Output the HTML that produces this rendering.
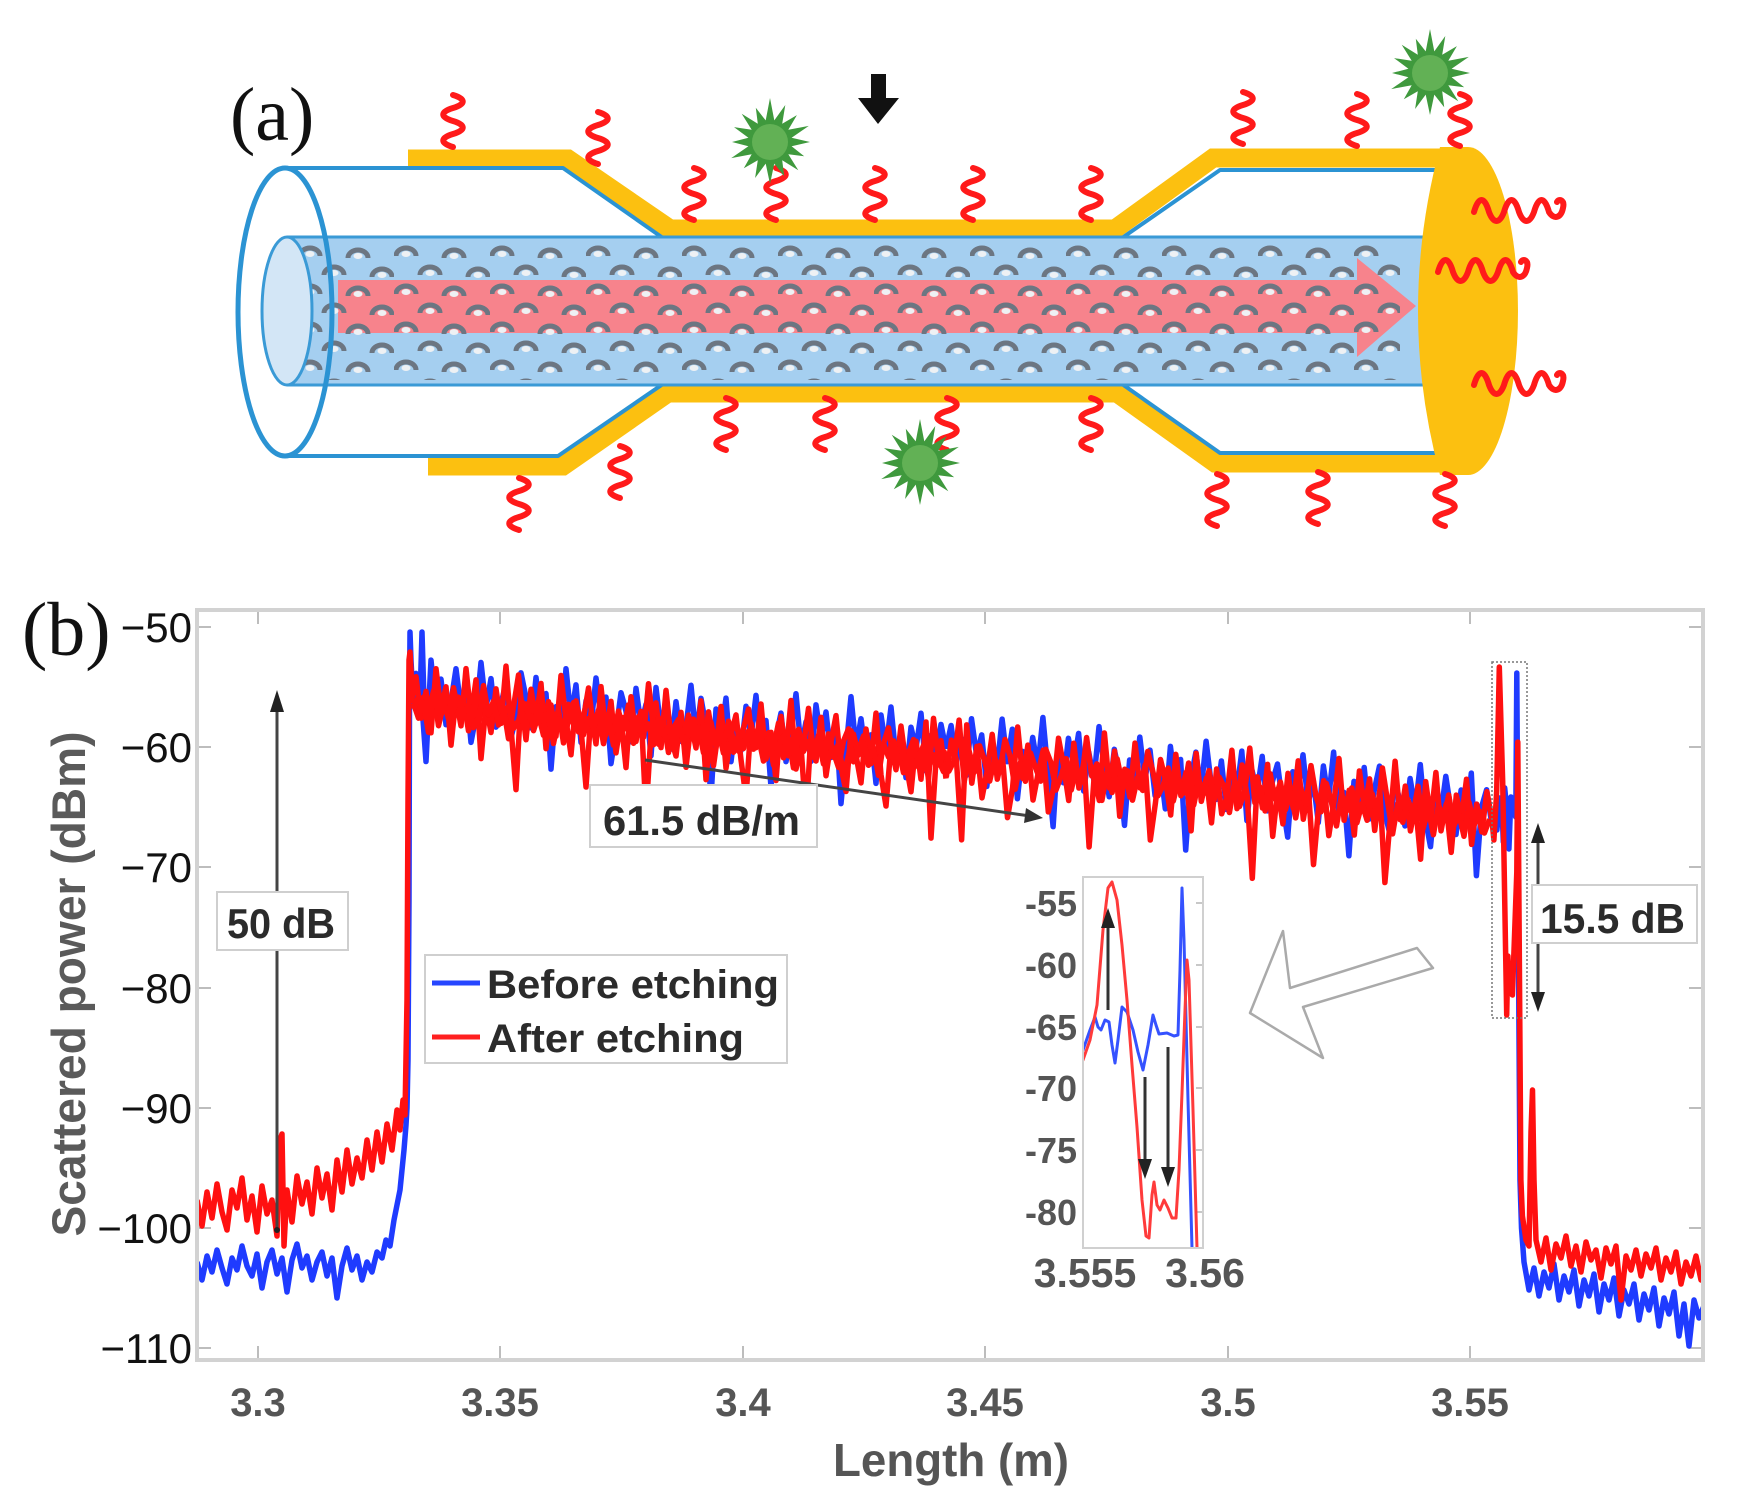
<!DOCTYPE html>
<html><head><meta charset="utf-8"><style>
html,body{margin:0;padding:0;background:#fff;}
svg{display:block;}
</style></head><body>
<svg width="1737" height="1512" viewBox="0 0 1737 1512" xmlns="http://www.w3.org/2000/svg" xmlns:xlink="http://www.w3.org/1999/xlink">
<defs>
<clipPath id="pc"><rect x="199" y="612" width="1502" height="746"/></clipPath>
<clipPath id="ic"><rect x="1084" y="878" width="118" height="369"/></clipPath>
<pattern id="dotp" patternUnits="userSpaceOnUse" x="298" y="243" width="96" height="38">
 <path d="M2,13 a10 8 0 0 1 20 0 M50,15 a10 8 0 0 1 20 0 M26,32 a10 8 0 0 1 20 0 M74,34 a10 8 0 0 1 20 0" stroke="#6c7682" stroke-width="5" fill="none"/>
 <ellipse cx="12" cy="11" rx="4.5" ry="3" fill="#eef1f4"/><ellipse cx="60" cy="13" rx="4.5" ry="3" fill="#eef1f4"/>
 <ellipse cx="36" cy="30" rx="4.5" ry="3" fill="#eef1f4"/><ellipse cx="84" cy="32" rx="4.5" ry="3" fill="#eef1f4"/>
</pattern>
<path id="vs" d="M0,0 c13,3.9 13,9.1 0,13 c-13,3.9 -13,9.1 0,13 c13,3.9 13,9.1 0,13 c-13,3.9 -13,9.1 0,13" fill="none" stroke="#ff1a1a" stroke-width="6" stroke-linecap="round"/>
<path id="hw" d="M0,4 c4.5,-16 10.5,-16 15,0 c4.5,12 10.5,12 15,0 c4.5,-16 10.5,-16 15,0 c4.5,12 10.5,12 15,0 c4.5,-16 10.5,-16 15,0 c5,8 12,6 14,-4 c2,-8 -4,-10 -6,-6" fill="none" stroke="#ff1a1a" stroke-width="6" stroke-linecap="round"/>
<g id="star">
 <polygon points="40,0 21.6,4.3 34.2,14.2 18.3,12.2 28.3,28.3 12.2,18.3 14.2,34.2 4.3,21.6 0,42 -4.3,21.6 -14.9,36 -12.2,18.3 -26.2,26.2 -18.3,12.2 -38.8,16.1 -21.6,4.3 -38,0 -21.6,-4.3 -36,-14.9 -18.3,-12.2 -28.3,-28.3 -12.2,-18.3 -14.2,-34.2 -4.3,-21.6 0,-44 4.3,-21.6 15.3,-37 12.2,-18.3 26.9,-26.9 18.3,-12.2 38.8,-16.1 21.6,-4.3" fill="#3f993d"/>
 <circle cx="0" cy="0" r="18" fill="#62b155"/>
</g>
<path id="N" fill="none" stroke-linejoin="round" vector-effect="non-scaling-stroke" d="M0,2 L5,-14 10,10 15,-6 20,18 25,-20 30,4 35,-10 40,24 45,-4 50,12 55,-22 60,6 65,-16 70,30 75,-2 80,14 85,-12 90,8 95,-26 100,10 105,46 110,-8 115,16 120,-14 125,4 130,-18 135,20 140,-6 145,12 150,-24 155,2 160,22 165,-10 170,6 175,40 180,-4 185,14 190,-20 195,8 200,-12 205,18 210,-2 215,26 220,-16 225,10 230,-8 235,52 240,4 245,-14 250,12 255,-22 260,6 265,16 270,-10 275,22 280,-4 285,10 290,-18 295,28 300,-6 305,8 310,-16 315,20 320,0 325,-12 330,14 335,36 340,-8 345,6 350,-20 355,12 360,-4 365,24 370,-14 375,8 380,-24 385,16 390,2 395,44 400,-6 405,10 410,-16 415,18 420,-2 425,-18 430,12 435,26 440,-10 445,4 450,20 455,-12 460,8 465,-22 470,14 475,32 480,-4 485,10 490,-16 495,6 500,22 505,-8 510,14 515,-20 520,48 525,2 530,-10 535,12"/>
</defs>
<rect width="1737" height="1512" fill="#fff"/>

<!-- ================= PANEL (a) ================= -->
<polyline points="408,159 568,159 670,229 1115,229 1213,158 1472,158" fill="none" stroke="#fcc010" stroke-width="19"/>
<polyline points="428,466 563,466 668,393 1117,393 1215,463 1472,463" fill="none" stroke="#fcc010" stroke-width="19"/>
<path d="M285,168 L563,168 L663,238 L1122,238 L1220,170 L1445,170 L1445,453 L1220,453 L1122,384 L663,384 L558,456 L285,456 Z" fill="#fff"/>
<polyline points="285,168 563,168 663,238 1122,238 1220,170 1445,170" fill="none" stroke="#2b93d3" stroke-width="4" stroke-linejoin="round"/>
<polyline points="285,456 558,456 663,384 1122,384 1220,453 1445,453" fill="none" stroke="#2b93d3" stroke-width="4" stroke-linejoin="round"/>
<rect x="287" y="237" width="1138" height="148" fill="#a5cff0"/>
<line x1="287" y1="237" x2="1425" y2="237" stroke="#3a9ad6" stroke-width="3"/>
<line x1="287" y1="385" x2="1425" y2="385" stroke="#3a9ad6" stroke-width="3"/>
<path d="M338,280 H1357 V258 L1416,306 L1357,357 V333 H338 Z" fill="#f7838c"/>
<rect x="300" y="243" width="1100" height="137" fill="url(#dotp)"/>
<ellipse cx="287" cy="311" rx="25" ry="74" fill="#d3e6f6" stroke="#3a9ad6" stroke-width="3"/>
<ellipse cx="285" cy="312" rx="47" ry="144" fill="none" stroke="#2b93d3" stroke-width="5"/>
<path d="M1440,147 L1468,147 A50 164 0 0 1 1468,475 L1440,475 Q1396,311 1440,147 Z" fill="#fcc010"/>
<use xlink:href="#vs" x="453" y="95"/><use xlink:href="#vs" x="598" y="112"/><use xlink:href="#vs" x="694" y="168"/>
<use xlink:href="#vs" x="776" y="168"/><use xlink:href="#vs" x="875" y="168"/><use xlink:href="#vs" x="973" y="168"/>
<use xlink:href="#vs" x="1091" y="168"/><use xlink:href="#vs" x="1243" y="92"/><use xlink:href="#vs" x="1357" y="94"/>
<use xlink:href="#vs" x="1460" y="94"/>
<use xlink:href="#vs" x="726" y="398"/><use xlink:href="#vs" x="825" y="398"/><use xlink:href="#vs" x="947" y="398"/>
<use xlink:href="#vs" x="1091" y="398"/><use xlink:href="#vs" x="519" y="478"/><use xlink:href="#vs" x="620" y="446"/>
<use xlink:href="#vs" x="1217" y="474"/><use xlink:href="#vs" x="1318" y="472"/><use xlink:href="#vs" x="1445" y="474"/>
<use xlink:href="#hw" x="1474" y="208"/><use xlink:href="#hw" x="1438" y="268"/><use xlink:href="#hw" x="1474" y="381"/>
<use xlink:href="#star" transform="translate(770,142)"/>
<use xlink:href="#star" transform="translate(920,463)"/>
<use xlink:href="#star" transform="translate(1430,73)"/>
<rect x="871" y="74" width="15" height="27" fill="#111"/>
<polygon points="858,98 899,98 878,124" fill="#111"/>
<text x="230" y="140" font-family="'Liberation Serif', 'Times New Roman', serif" font-size="76" fill="#111">(a)</text>

<!-- ================= PANEL (b) ================= -->
<text x="22" y="655" font-family="'Liberation Serif', 'Times New Roman', serif" font-size="76" fill="#111">(b)</text>
<rect x="197" y="610" width="1506" height="750" fill="#fff" stroke="#d2d2d2" stroke-width="4"/>
<g stroke="#bdbdbd" stroke-width="2">
 <path d="M199,627H211M199,747H211M199,867H211M199,988H211M199,1108H211M199,1228H211M199,1348H211"/>
 <path d="M1701,627H1689M1701,747H1689M1701,867H1689M1701,988H1689M1701,1108H1689M1701,1228H1689M1701,1348H1689"/>
 <path d="M258,1358V1346M500,1358V1346M743,1358V1346M985,1358V1346M1228,1358V1346M1470,1358V1346"/>
 <path d="M258,612V624M500,612V624M743,612V624M985,612V624M1228,612V624M1470,612V624"/>
</g>
<g font-family="'Liberation Sans', Arial, sans-serif" font-size="42" fill="#111" text-anchor="end">
 <text x="192" y="642">−50</text><text x="192" y="762">−60</text><text x="192" y="882">−70</text>
 <text x="192" y="1003">−80</text><text x="192" y="1123">−90</text><text x="192" y="1243">−100</text><text x="192" y="1363">−110</text>
</g>
<g font-family="'Liberation Sans', Arial, sans-serif" font-size="40" font-weight="bold" fill="#555" text-anchor="middle">
 <text x="258" y="1416">3.3</text><text x="500" y="1416">3.35</text><text x="743" y="1416">3.4</text>
 <text x="985" y="1416">3.45</text><text x="1228" y="1416">3.5</text><text x="1470" y="1416">3.55</text>
</g>
<text transform="translate(85,984) rotate(-90)" font-family="'Liberation Sans', Arial, sans-serif" font-size="47" font-weight="bold" fill="#5a5a5a" text-anchor="middle" textLength="505" lengthAdjust="spacingAndGlyphs">Scattered power (dBm)</text>
<text x="951" y="1476" font-family="'Liberation Sans', Arial, sans-serif" font-size="46" font-weight="bold" fill="#555" text-anchor="middle" textLength="236" lengthAdjust="spacingAndGlyphs">Length (m)</text>

<g clip-path="url(#pc)" fill="none" stroke-width="5.5" stroke-linejoin="round">
 <!-- blue -->
 <g stroke="#1f3bff">
  <path d="M197,1262 L202,1280 207,1256 212,1272 217,1250 222,1268 227,1284 232,1258 237,1270 242,1246 247,1266 252,1276 257,1254 262,1288 267,1262 272,1250 277,1274 282,1258 287,1292 292,1260 297,1244 302,1268 307,1256 312,1280 317,1262 322,1252 327,1276 332,1258 337,1298 342,1266 347,1248 352,1270 357,1256 362,1280 367,1262 372,1272 377,1252 382,1258 386,1240 390,1246 394,1220 397,1205 400,1190 402,1170 404,1150 406,1125 407,1108 408,1060 409,900 409.5,700 410,632 411,660 413,700"/>
  <path d="M420,700 L422,632 424,700"/>
  <use xlink:href="#N" transform="matrix(-1,-0.1086,0,1.5,946,746)"/>
  <use xlink:href="#N" transform="matrix(1.02,0.1109,0,1.5,946,746)"/>
  <path d="M1492,812 L1496.9,830 1499.7,798 1500.3,807 1501.7,801 1503.3,842 1504.7,788 1506.9,811 1508.9,849 1510.9,797 1512,813 1513.8,813 1515.8,817 1516.8,673 1518.9,1022 1520,1180 1521.5,1228 1524,1262 1529,1290 1534,1268 1539,1296 1544,1272 1549,1288 1554,1264 1559,1300 1564,1276 1569,1292 1574,1270 1579,1306 1584,1280 1589,1296 1594,1274 1599,1312 1604,1284 1609,1300 1614,1278 1619,1316 1624,1290 1629,1304 1634,1284 1639,1320 1644,1294 1649,1310 1654,1288 1659,1326 1664,1298 1669,1314 1674,1292 1679,1336 1684,1304 1689,1346 1694,1300 1699,1318 1704,1306"/>
 </g>
 <!-- red -->
 <g stroke="#ff1010">
  <path d="M197,1200 L202,1226 207,1192 212,1218 217,1184 222,1212 227,1230 232,1190 237,1208 242,1178 247,1220 252,1196 257,1232 262,1186 267,1214 272,1200 277,1236 280,1140 282,1134 284,1246 287,1190 292,1222 297,1176 302,1204 307,1182 312,1214 317,1168 322,1198 327,1174 332,1210 337,1160 342,1192 347,1150 352,1184 357,1158 362,1178 367,1140 372,1170 377,1132 382,1162 387,1124 392,1150 397,1110 400,1130 403,1100 405,1115 407,1000 408,800 409,660 410,652 412,690"/>
  <use xlink:href="#N" transform="matrix(1,0.1087,0,1.7,411,700)"/>
  <use xlink:href="#N" transform="matrix(-1.02,-0.111,0,1.7,1492,816)"/>
  <use xlink:href="#N" transform="matrix(1,0.1087,0,-0.9,413.5,705)"/>
  <use xlink:href="#N" transform="matrix(-1.02,-0.111,0,-0.9,1489.5,821)"/>
  <use xlink:href="#N" transform="matrix(-1,-0.1086,0,0.6,948.5,760)"/>
  <path d="M1492,820 L1493.9,840 1496.7,791 1499.3,667 1502.7,782 1504.8,905 1506.7,1015 1507.9,956 1509,985 1510,976 1512.4,995 1516.8,872 1517.8,742 1519.8,1022 1520.9,1180 1522.4,1216 1526,1240 1529,1246 1531,1132 1532.5,1090 1534,1180 1536,1240 1541,1262 1546,1238 1551,1270 1556,1244 1561,1258 1566,1236 1571,1266 1576,1246 1581,1272 1586,1242 1591,1260 1596,1250 1601,1278 1606,1248 1611,1264 1616,1246 1621,1300 1626,1256 1631,1270 1636,1250 1641,1276 1646,1254 1651,1268 1656,1248 1661,1280 1666,1258 1671,1272 1676,1252 1681,1284 1686,1262 1691,1276 1696,1256 1701,1280 1706,1268"/>
 </g>
</g>

<!-- annotations -->
<g stroke="#444" stroke-width="3" fill="none">
 <line x1="277" y1="1230" x2="277" y2="708"/>
 <line x1="645" y1="760" x2="1030" y2="816"/>
 <line x1="1538" y1="840" x2="1538" y2="995"/>
</g>
<circle cx="277" cy="1230" r="3" fill="#222"/>
<polygon points="277,690 270,712 284,712" fill="#222"/>
<polygon points="1043,818 1026,808 1024,823" fill="#333"/>
<polygon points="1538,823 1531,843 1545,843" fill="#222"/>
<polygon points="1538,1012 1531,992 1545,992" fill="#222"/>
<rect x="1492" y="662" width="35" height="356" fill="none" stroke="#777" stroke-width="1.5" stroke-dasharray="2,2"/>

<g font-family="'Liberation Sans', Arial, sans-serif" font-weight="bold" fill="#2b2b2b">
 <rect x="217" y="892" width="131" height="58" fill="#fff" stroke="#cfcfcf" stroke-width="2"/>
 <text x="227" y="938" font-size="42" textLength="108" lengthAdjust="spacingAndGlyphs">50 dB</text>
 <rect x="590" y="785" width="227" height="62" fill="#fff" stroke="#cfcfcf" stroke-width="2"/>
 <text x="603" y="835" font-size="42" textLength="197" lengthAdjust="spacingAndGlyphs">61.5 dB/m</text>
 <rect x="1532" y="885" width="165" height="58" fill="#fff" stroke="#cfcfcf" stroke-width="2"/>
 <text x="1540" y="933" font-size="42" textLength="145" lengthAdjust="spacingAndGlyphs">15.5 dB</text>
 <rect x="425" y="955" width="362" height="108" fill="#fff" stroke="#cfcfcf" stroke-width="2"/>
 <line x1="432" y1="983" x2="480" y2="983" stroke="#2646ff" stroke-width="5"/>
 <line x1="432" y1="1037" x2="480" y2="1037" stroke="#ff2020" stroke-width="5"/>
 <text x="487" y="998" font-size="40" textLength="292" lengthAdjust="spacingAndGlyphs">Before etching</text>
 <text x="487" y="1052" font-size="40" textLength="257" lengthAdjust="spacingAndGlyphs">After etching</text>
</g>

<!-- inset -->
<rect x="1083" y="877" width="120" height="371" fill="#fff" stroke="#d0d0d0" stroke-width="2"/>
<path d="M1202,903H1196M1202,965H1196M1202,1027H1196M1202,1088H1196M1202,1150H1196M1202,1212H1196" stroke="#c8c8c8" stroke-width="2"/>
<g clip-path="url(#ic)" fill="none" stroke-width="3" stroke-linejoin="round">
 <polyline stroke="#3552ff" points="1075,1065 1083,1050 1090,1030 1095,1017 1098,1027 1101,1030 1105,1020 1109,1022 1112,1045 1115,1063 1118,1040 1122,1007 1127,1012 1133,1030 1138,1052 1143,1070 1148,1045 1153,1015 1156,1025 1159,1034 1167,1033 1174,1036 1178,1035 1180,970 1182,888 1184,940 1188,1100 1192,1248 1195,1320"/>
 <polyline stroke="#ff3b3b" points="1075,1075 1083,1060 1090,1040 1097,1005 1103,930 1108,888 1112,882 1117,900 1122,945 1127,1000 1132,1065 1137,1127 1142,1200 1146,1236 1149,1238 1152,1195 1154,1182 1157,1205 1160,1210 1164,1200 1168,1208 1172,1218 1176,1218 1179,1170 1182,1093 1185,1010 1187,960 1189,980 1193,1110 1197,1248 1200,1320"/>
</g>
<g stroke="#333" stroke-width="3">
 <line x1="1108" y1="1010" x2="1108" y2="925"/>
 <line x1="1145" y1="1077" x2="1145" y2="1162"/>
 <line x1="1168" y1="1047" x2="1168" y2="1170"/>
</g>
<polygon points="1108,908 1101,928 1115,928" fill="#222"/>
<polygon points="1145,1179 1138,1159 1152,1159" fill="#222"/>
<polygon points="1168,1187 1161,1167 1175,1167" fill="#222"/>
<g font-family="'Liberation Sans', Arial, sans-serif" font-weight="bold" fill="#555">
 <g font-size="36" text-anchor="end">
  <text x="1077" y="916">-55</text><text x="1077" y="978">-60</text><text x="1077" y="1040">-65</text>
  <text x="1077" y="1101">-70</text><text x="1077" y="1163">-75</text><text x="1077" y="1225">-80</text>
 </g>
 <text x="1085" y="1287" font-size="41" text-anchor="middle">3.555</text>
 <text x="1205" y="1287" font-size="41" text-anchor="middle">3.56</text>
</g>
<polygon points="1250,1013 1283,931 1290,988 1417,948 1433,968 1303,1007 1323,1058" fill="#fff" stroke="#aaa" stroke-width="2.5" stroke-linejoin="round"/>
</svg>
</body></html>
